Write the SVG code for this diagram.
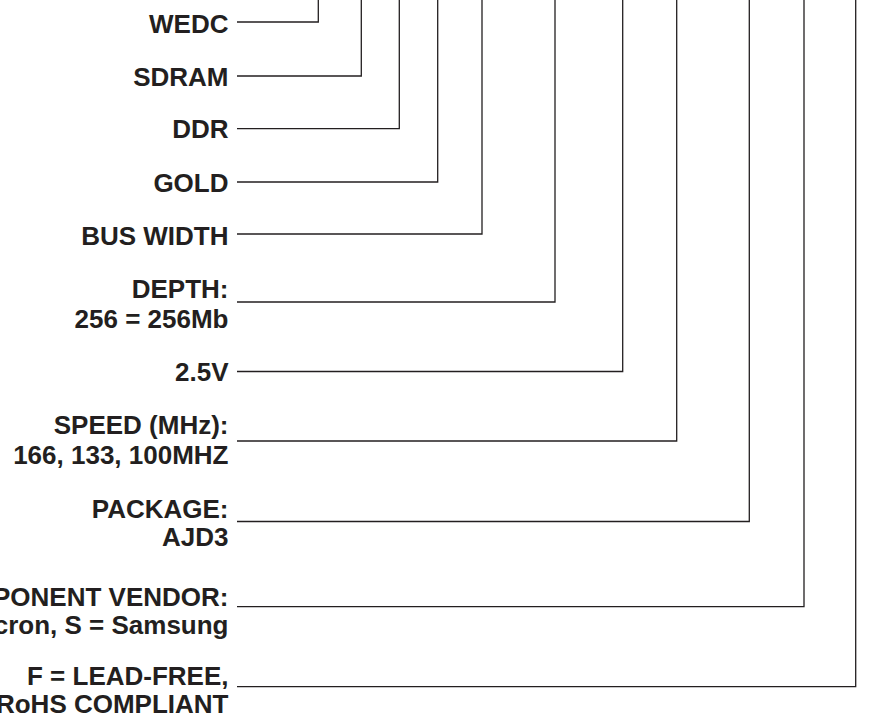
<svg xmlns="http://www.w3.org/2000/svg" width="889" height="716" viewBox="0 0 889 716">
<style>
.lbl{font-family:"Liberation Sans",Arial,sans-serif;font-weight:bold;font-size:26px;fill:#231f20;text-anchor:end}
.con{fill:none;stroke:#231f20;stroke-width:1.3}
</style>
<rect width="889" height="716" fill="#ffffff"/>
<g id="connectors">
<path class="con" d="M237,22 H318.3 V0"/>
<path class="con" d="M237,76 H361.3 V0"/>
<path class="con" d="M237,128.7 H399.3 V0"/>
<path class="con" d="M237,182 H437.7 V0"/>
<path class="con" d="M237,234 H482 V0"/>
<path class="con" d="M237,302 H555 V0"/>
<path class="con" d="M237,371.5 H622.7 V0"/>
<path class="con" d="M237,441 H676.7 V0"/>
<path class="con" d="M237,521.5 H749.3 V0"/>
<path class="con" d="M237,606.7 H804 V0"/>
<path class="con" d="M237,686.7 H855.7 V0"/>
</g>
<g id="wedc"><text class="lbl" x="228.5" y="32.5">WEDC</text></g>
<g id="sdram"><text class="lbl" x="228.5" y="85.5">SDRAM</text></g>
<g id="ddr"><text class="lbl" x="228.5" y="138">DDR</text></g>
<g id="gold"><text class="lbl" x="228.5" y="191.5">GOLD</text></g>
<g id="bus-width"><text class="lbl" x="228.5" y="245">BUS WIDTH</text></g>
<g id="depth"><text class="lbl" x="228.5" y="298"><tspan x="228.5" y="298">DEPTH:</tspan><tspan x="228.5" y="327.5">256 = 256Mb</tspan></text></g>
<g id="voltage"><text class="lbl" x="228.5" y="381">2.5V</text></g>
<g id="speed"><text class="lbl" x="228.5" y="434"><tspan x="228.5" y="434">SPEED (MHz):</tspan><tspan x="228.5" y="463.5">166, 133, 100MHZ</tspan></text></g>
<g id="package"><text class="lbl" x="228.5" y="517.5"><tspan x="228.5" y="517.5">PACKAGE:</tspan><tspan x="228.5" y="546">AJD3</tspan></text></g>
<g id="vendor"><text class="lbl" x="228.5" y="605.5"><tspan x="228.5" y="605.5">PONENT VENDOR:</tspan><tspan x="228.5" y="634">cron, S = Samsung</tspan></text></g>
<g id="lead-free"><text class="lbl" x="228.5" y="684.5"><tspan x="228.5" y="684.5">F = LEAD-FREE,</tspan><tspan x="228.5" y="712.5">RoHS COMPLIANT</tspan></text></g>
</svg>
